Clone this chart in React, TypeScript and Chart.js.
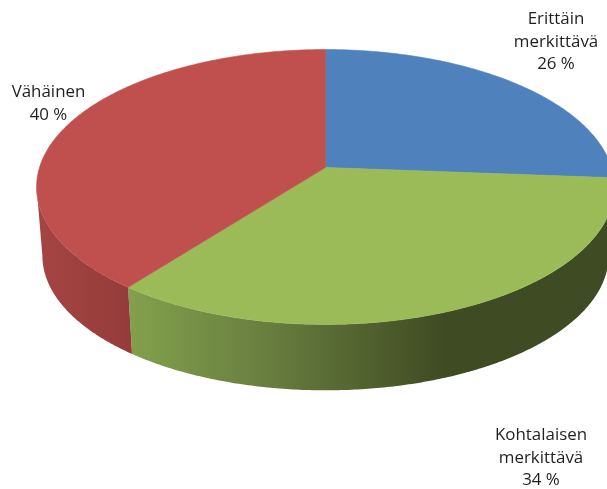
import React, { useEffect, useRef } from "react";
import { Chart, registerables } from "chart.js";

Chart.register(...registerables);

const categories = ["Erittäin merkittävä", "Kohtalaisen merkittävä", "Vähäinen"];
const shareValues = [26.2, 34.3, 39.5];
const shareLabels = ["26 %", "34 %", "40 %"];
const labelLines = [["Erittäin", "merkittävä"], ["Kohtalaisen", "merkittävä"], ["Vähäinen"]];
const faceColors = ["#4f81bd", "#9bbb59", "#c0504d"];

// Perspective view of the pie disc
const APEX_X = 325.5;
const APEX_Y = 167.5;
const A = 286;
const B = 134.7;
const K = 0.1418;
const WALL_SCALE = 0.98;
const WALL_DROP = 69;
const LABEL_POS = [[556, 19], [541, 435], [48.5, 92]];
const LABEL_LINE = 22.8;
const FONT = '16.9px "Open Sans", sans-serif';

function project(theta: number, scale = 1, drop = 0): [number, number] {
  const X = Math.cos(theta);
  const Y = Math.sin(theta);
  const w = 1 - K * Y;
  return [APEX_X + (scale * A * X) / w, APEX_Y + drop + (scale * B * Y) / w];
}

function arcPoints(a0: number, a1: number, scale = 1, drop = 0) {
  const n = Math.max(2, Math.ceil(Math.abs(a1 - a0) / 0.01));
  const pts: [number, number][] = [];
  for (let i = 0; i <= n; i++) pts.push(project(a0 + ((a1 - a0) * i) / n, scale, drop));
  return pts;
}

function wallFill(ctx: CanvasRenderingContext2D, index: number) {
  if (index === 1) {
    const g = ctx.createLinearGradient(125, 0, 445, 0);
    g.addColorStop(0, "#83a24c");
    g.addColorStop(0.42, "#6a8040");
    g.addColorStop(1, "#3f4b22");
    return g;
  }
  if (index === 2) {
    const g = ctx.createLinearGradient(36, 0, 128, 0);
    g.addColorStop(0, "#a64543");
    g.addColorStop(1, "#953c3a");
    return g;
  }
  return "#2f4a6d";
}

const pie3d = {
  id: "pie3d",
  beforeDatasetsDraw(chart: any) {
    const ctx: CanvasRenderingContext2D = chart.ctx;
    const arcs = chart.getDatasetMeta(0).data;
    ctx.save();
    // side walls, between the two silhouette points of the rim
    arcs.forEach((arc: any, i: number) => {
      const a0 = Math.max(arc.startAngle, K);
      const a1 = Math.min(arc.endAngle, Math.PI - K);
      if (a1 <= a0) return;
      const top = arcPoints(a0, a1);
      const bottom = arcPoints(a1, a0, WALL_SCALE, WALL_DROP);
      ctx.beginPath();
      [...top, ...bottom].forEach(([x, y], k) => (k ? ctx.lineTo(x, y) : ctx.moveTo(x, y)));
      ctx.closePath();
      ctx.fillStyle = wallFill(ctx, i);
      ctx.fill();
    });
    // top faces
    arcs.forEach((arc: any) => {
      ctx.beginPath();
      ctx.moveTo(APEX_X, APEX_Y);
      arcPoints(arc.startAngle, arc.endAngle).forEach(([x, y]) => ctx.lineTo(x, y));
      ctx.closePath();
      ctx.fillStyle = arc.options.backgroundColor;
      ctx.strokeStyle = arc.options.backgroundColor;
      ctx.lineWidth = 0.6;
      ctx.fill();
      ctx.stroke();
    });
    ctx.restore();
    return false;
  },
  afterDraw(chart: any) {
    const ctx: CanvasRenderingContext2D = chart.ctx;
    ctx.save();
    ctx.font = FONT;
    ctx.fillStyle = "#1f1f1f";
    ctx.textAlign = "center";
    ctx.textBaseline = "middle";
    labelLines.forEach((lines, i) => {
      const [x, y] = LABEL_POS[i];
      [...lines, shareLabels[i]].forEach((t, k) => ctx.fillText(t, x, y + k * LABEL_LINE));
    });
    ctx.restore();
  },
};

export default function App() {
  const ref = useRef<HTMLCanvasElement>(null);
  useEffect(() => {
    const chart = new Chart(ref.current!, {
      type: "pie",
      data: {
        labels: categories,
        datasets: [{ data: shareValues, backgroundColor: faceColors, borderWidth: 0 }],
      },
      options: {
        animation: false,
        responsive: false,
        events: [],
        plugins: { legend: { display: false }, tooltip: { enabled: false } },
      },
      plugins: [pie3d],
    } as any);
    return () => chart.destroy();
  }, []);
  return (
    <canvas
      ref={ref}
      width={607}
      height={489}
      style={{ position: "fixed", left: 0, top: 0, width: 607, height: 489, display: "block" }}
    />
  );
}
